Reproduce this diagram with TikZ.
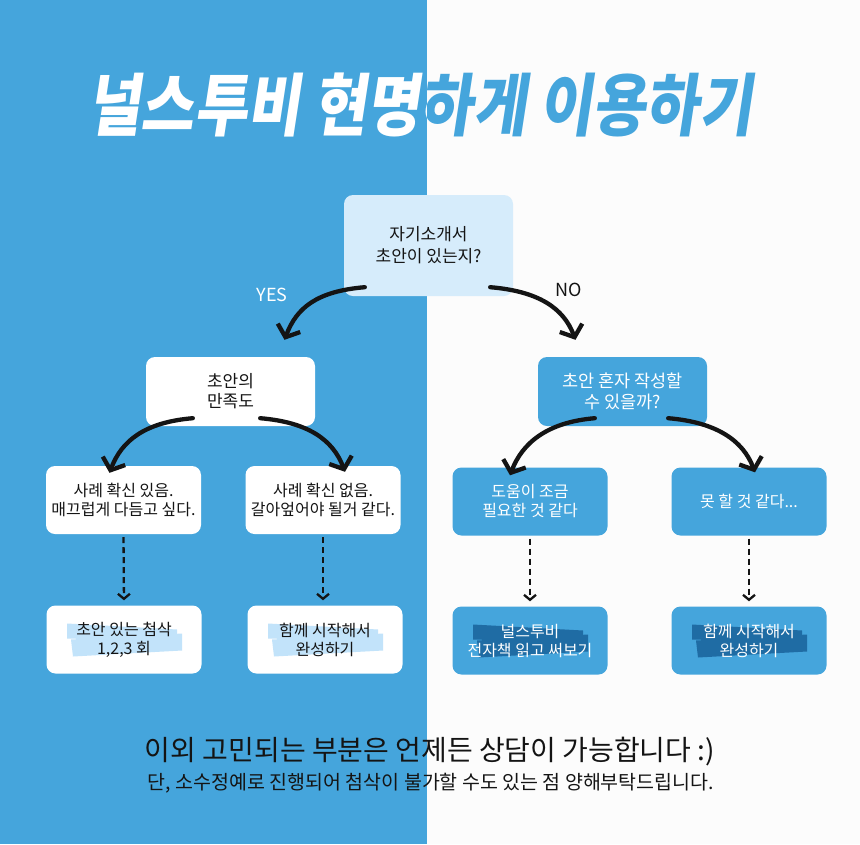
\documentclass[tikz,border=0pt]{standalone}
\usepackage{fontspec}
\usepackage{graphicx}
\setmainfont{Noto Sans CJK KR}
\newfontfamily\titlefont[FakeSlant=0.18]{Noto Sans CJK KR}
\usetikzlibrary{arrows.meta, positioning, calc}
\definecolor{nsblue}{HTML}{45A5DC}
\definecolor{qblue}{HTML}{D6ECFB}
\definecolor{hllight}{HTML}{C2E3FA}
\definecolor{hldark}{HTML}{1F6CA4}
\definecolor{offwhite}{HTML}{FCFCFC}
\definecolor{ink}{HTML}{141414}

\begin{document}
\begin{tikzpicture}[x=1pt, y=-1pt,
    box/.style={rounded corners=9pt, minimum width=155pt, minimum height=68pt,
                align=center, inner sep=0pt, font=\fontsize{16}{19}\selectfont},
    wbox/.style={box, fill=white, text=ink},
    bbox/.style={box, fill=nsblue, text=white},
    hl/.style={path picture={
        \fill[#1, sharp corners] ([shift={(-57,-16)}]path picture bounding box.center) -- ++(110,6) -- ++(0,12) -- ++(-110,-3) -- cycle;
        \fill[#1, sharp corners] ([shift={(-53,0)}]path picture bounding box.center) -- ++(111,-6) -- ++(0,17) -- ++(-109,6) -- cycle;}},
    bigarrow/.style={-{Straight Barb[length=10pt, width=24pt]}, line width=4.3pt, line cap=round, ink},
    dasharrow/.style={-{Straight Barb[length=5pt, width=12pt]}, line width=2.3pt,
                      dash pattern=on 6pt off 4pt, ink, shorten <=3pt, shorten >=5pt}]

    % background halves
    \fill[offwhite] (0,0) rectangle (860,844);
    \fill[nsblue] (0,0) rectangle (427,844);
    \useasboundingbox (0,0) rectangle (860,844);

    % title, white on the blue half and blue on the white half
    \begin{scope}
        \clip (0,0) rectangle (427,200);
        \node[white, font=\titlefont\bfseries\fontsize{68}{68}\selectfont] (title) at (420,105)
            {\scalebox{0.85}[1]{널스투비 현명하게 이용하기}};
    \end{scope}
    \begin{scope}
        \clip (427,0) rectangle (860,200);
        \node[nsblue, font=\titlefont\bfseries\fontsize{68}{68}\selectfont] (titleR) at (420,105)
            {\scalebox{0.85}[1]{널스투비 현명하게 이용하기}};
    \end{scope}

    \node[box, fill=qblue, text=ink, minimum width=169pt, minimum height=101pt,
          font=\fontsize{17}{22}\selectfont] (q1) at (428.5,245.5) {자기소개서\\초안이 있는지?};

    \node[white, font=\fontsize{18}{18}\selectfont] (yes) at (272,295) {YES};
    \node[ink, font=\fontsize{18}{18}\selectfont] (no) at (569,290) {NO};

    \node[wbox, minimum width=169pt, minimum height=69pt, font=\fontsize{17}{20}\selectfont]
        (sat) at (230.5,391.5) {초안의\\만족도};
    \node[bbox, minimum width=169pt, minimum height=69pt, font=\fontsize{17.5}{20.5}\selectfont]
        (alone) at (622.5,391.5) {초안 혼자 작성할\\수 있을까?};

    \node[wbox] (sure) at (123.5,500) {사례 확신 있음.\\매끄럽게 다듬고 싶다.};
    \node[wbox] (unsure) at (323,500) {사례 확신 없음.\\갈아엎어야 될거 같다.};
    \node[bbox] (help) at (530,501.5) {도움이 조금\\필요한 것 같다};
    \node[bbox] (cant) at (749,501.5) {못 할 것 같다...};

    \node[wbox, hl=hllight] (review) at (124,639.5) {초안 있는 첨삭\\1,2,3 회};
    \node[wbox, hl=hllight] (togetherL) at (325,639.5) {함께 시작해서\\완성하기};
    \node[bbox, hl=hldark] (ebook) at (530,640.5) {널스투비\\전자책 읽고 써보기};
    \node[bbox, hl=hldark] (togetherR) at (749,640.5) {함께 시작해서\\완성하기};

    % curved arrows
    \draw[bigarrow] ([shift={(21,-9)}]q1.south west) .. controls +(-48,4) and +(12,-32) .. ([shift={(54,-17)}]sat.north);
    \draw[bigarrow] ([shift={(-23,-9)}]q1.south east) .. controls +(48,4) and +(-12,-32) .. ([shift={(-47,-17)}]alone.north);
    \draw[bigarrow] ([shift={(47,-8)}]sat.south west) .. controls +(-48,4) and +(12,-32) .. ([shift={(-14,7)}]sure.north);
    \draw[bigarrow] ([shift={(-55,-8)}]sat.south east) .. controls +(48,4) and +(-12,-32) .. ([shift={(22,6)}]unsure.north);
    \draw[bigarrow] ([shift={(57,-8)}]alone.south west) .. controls +(-48,4) and +(12,-32) .. ([shift={(-20,8)}]help.north);
    \draw[bigarrow] ([shift={(-39,-8)}]alone.south east) .. controls +(48,4) and +(-12,-32) .. ([shift={(6,5)}]cant.north);

    % dashed arrows
    \draw[dasharrow] (sure.south) -- (review.north);
    \draw[dasharrow] (unsure.south) -- (unsure.south |- togetherL.north);
    \draw[dasharrow] (help.south) -- (ebook.north);
    \draw[dasharrow] (cant.south) -- (togetherR.north);

    \node[ink, font=\fontsize{28}{28}\selectfont] (note) at (430,752) {이외 고민되는 부분은 언제든 상담이 가능합니다 :)};
    \node[ink, font=\fontsize{19.5}{19.5}\selectfont] (notesub) at (431,783) {단, 소수정예로 진행되어 첨삭이 불가할 수도 있는 점 양해부탁드립니다.};
\end{tikzpicture}
\end{document}
